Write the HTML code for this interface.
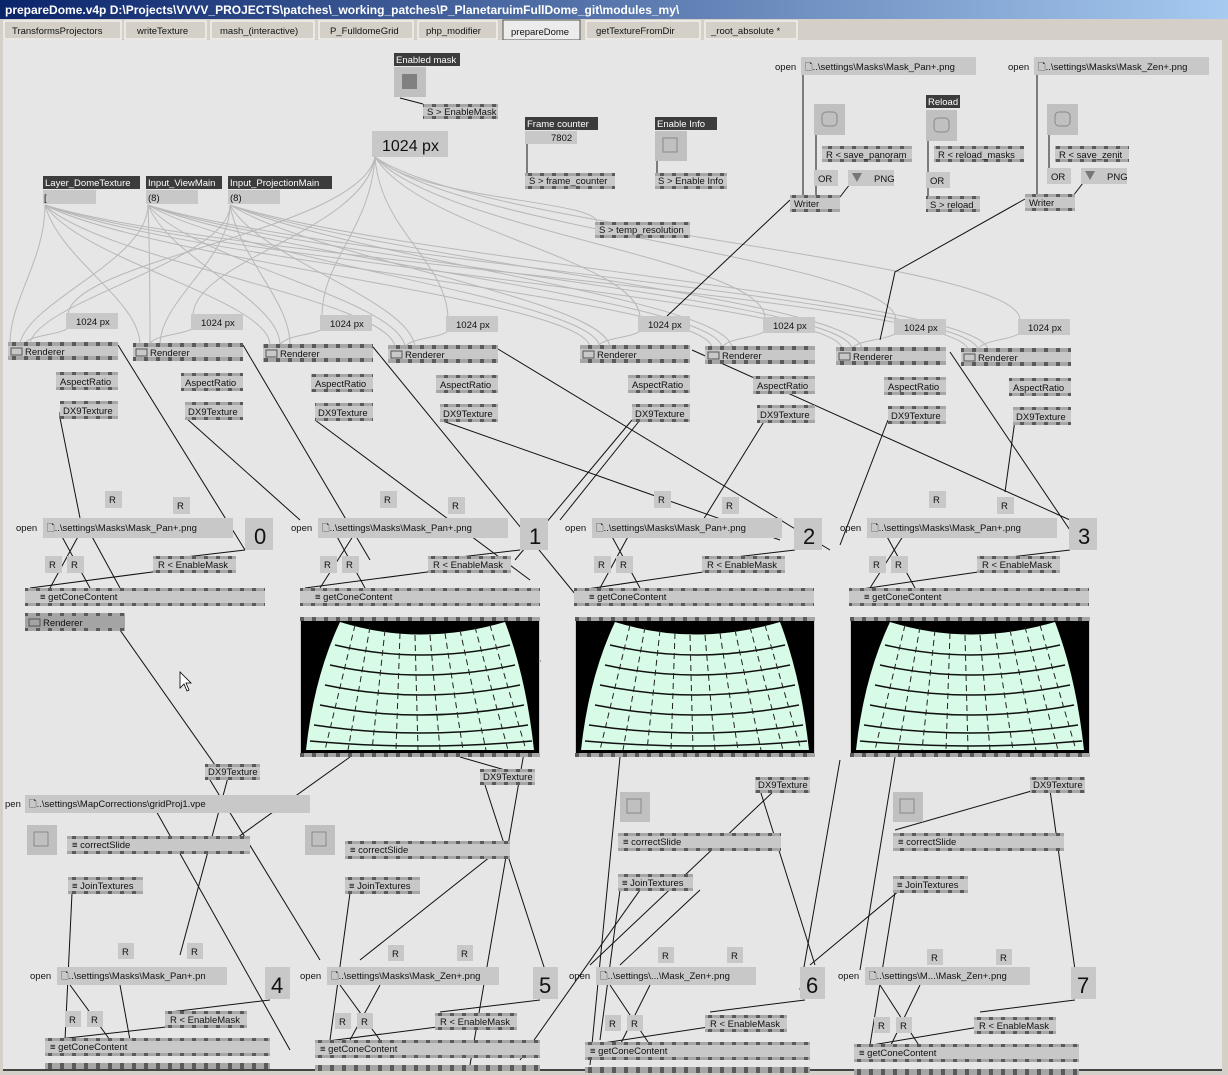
<!DOCTYPE html>
<html><head><meta charset="utf-8"><style>
body{margin:0;width:1228px;height:1075px;overflow:hidden;background:#d4d0c8;font-family:"Liberation Sans",sans-serif}
svg{position:absolute;left:0;top:0}
svg text{font-family:"Liberation Sans",sans-serif;font-size:9.5px;fill:#111}
.n{fill:#c8c8c8}.d{fill:#9a9a9a}.lb{fill:#3c3c3c}
.w{stroke:#111;stroke-width:1;fill:none}
.g{stroke:#b8b8b8;stroke-width:1;fill:none}
</style></head><body>
<svg width="1228" height="1075" viewBox="0 0 1228 1075">
<defs>
<pattern id="p" width="12" height="3" patternUnits="userSpaceOnUse"><rect width="12" height="3" fill="#a6a6a6"/><rect width="4" height="3" fill="#5a5a5a"/></pattern>
<linearGradient id="tb" x1="0" x2="1"><stop offset="0" stop-color="#0a246a"/><stop offset="1" stop-color="#a6caf0"/></linearGradient>
<g id="img">
<rect x="0" y="0" width="240" height="140" fill="#c8c8c8"/>
<rect x="0" y="0" width="240" height="4" fill="url(#p)"/>
<rect x="0" y="136" width="240" height="4" fill="url(#p)"/>
<rect x="1" y="4" width="238" height="132" fill="#000"/>
<path d="M40,5 Q120,30 205,5 Q226,60 234,133 L6,133 Q14,60 40,5 Z" fill="#d8fbe8"/>
<g stroke="#111" stroke-width="1.5" fill="none">
<path d="M35,28 Q120,48 210,28"/><path d="M30,48 Q120,68 215,48"/><path d="M25,68 Q120,88 220,68"/><path d="M20,88 Q120,108 224,88"/><path d="M14,108 Q120,124 228,108"/><path d="M10,124 Q120,134 232,124"/>
</g>
<g stroke="#222" stroke-width="1" stroke-dasharray="6,4">
<path d="M55,8 L25,133"/><path d="M70,10 L48,133"/><path d="M85,13 L72,133"/><path d="M100,16 L96,133"/><path d="M115,18 L118,133"/><path d="M130,18 L140,133"/><path d="M145,16 L163,133"/><path d="M160,13 L186,133"/><path d="M175,10 L208,133"/><path d="M190,8 L226,133"/>
</g>
</g>
</defs>
<!-- window -->
<rect x="0" y="0" width="1228" height="1075" fill="#d4d0c8"/>
<rect x="0" y="0" width="1228" height="19" fill="url(#tb)"/>
<text x="5" y="14" style="fill:#fff;font-weight:bold;font-size:12px">prepareDome.v4p   D:\Projects\VVVV_PROJECTS\patches\_working_patches\P_PlanetaruimFullDome_git\modules_my\</text>
<g style="font-size:10px">
<rect x="4" y="21" width="117" height="18" fill="#d4d0c8" stroke="#fff"/><text x="12" y="34">TransformsProjectors</text>
<rect x="125" y="21" width="81" height="18" fill="#d4d0c8" stroke="#fff"/><text x="137" y="34">writeTexture</text>
<rect x="211" y="21" width="103" height="18" fill="#d4d0c8" stroke="#fff"/><text x="220" y="34">mash_(interactive)</text>
<rect x="319" y="21" width="94" height="18" fill="#d4d0c8" stroke="#fff"/><text x="330" y="34">P_FulldomeGrid</text>
<rect x="418" y="21" width="79" height="18" fill="#d4d0c8" stroke="#fff"/><text x="426" y="34">php_modifier</text>
<rect x="503" y="20" width="77" height="20" fill="#ececec" stroke="#555"/><text x="511" y="35">prepareDome</text>
<rect x="586" y="21" width="114" height="18" fill="#d4d0c8" stroke="#fff"/><text x="596" y="34">getTextureFromDir</text>
<rect x="705" y="21" width="92" height="18" fill="#d4d0c8" stroke="#fff"/><text x="711" y="34">_root_absolute *</text>
</g>
<rect x="3" y="40" width="1219" height="1031" fill="#e6e6e6"/>
<rect x="3" y="1069" width="1219" height="2" fill="#444"/>

<!-- gray links -->
<g class="g">
<path d="M45,205 C45,260 10,300 10,343"/><path d="M45,205 C60,260 140,300 140,345"/><path d="M45,205 C80,260 270,300 270,345"/><path d="M45,205 C100,260 390,300 395,347"/><path d="M45,205 C150,260 585,300 590,347"/><path d="M45,205 C180,260 710,300 712,348"/><path d="M45,205 C200,260 840,300 842,349"/><path d="M45,205 C220,260 965,300 968,350"/>
<path d="M148,205 C148,260 30,300 20,343"/><path d="M148,205 C150,260 150,300 150,345"/><path d="M148,205 C170,260 280,300 280,345"/><path d="M148,205 C190,260 400,300 405,347"/><path d="M148,205 C240,260 595,300 600,347"/><path d="M148,205 C280,260 720,300 722,348"/><path d="M148,205 C300,260 850,300 852,349"/><path d="M148,205 C320,260 975,300 978,350"/>
<path d="M230,205 C230,260 40,300 30,343"/><path d="M230,205 C230,260 160,300 160,345"/><path d="M230,205 C240,260 290,300 290,345"/><path d="M230,205 C260,260 410,300 415,347"/><path d="M230,205 C320,260 605,300 610,347"/><path d="M230,205 C360,260 730,300 732,348"/><path d="M230,205 C380,260 860,300 862,349"/><path d="M230,205 C400,260 985,300 988,350"/>
<path d="M375,157 C360,230 70,260 68,315"/><path d="M375,157 C365,230 195,260 193,315"/><path d="M375,157 C370,230 322,260 322,316"/><path d="M375,157 C380,230 446,260 448,318"/><path d="M375,157 C420,230 640,260 640,318"/><path d="M375,157 C440,230 765,260 765,318"/><path d="M375,157 C460,230 895,260 896,320"/><path d="M375,157 C480,230 1020,260 1020,320"/><path d="M375,157 C420,200 595,200 597,222"/>
<path d="M68,328 C60,335 30,335 25,343"/><path d="M193,328 C185,335 150,335 150,345"/><path d="M322,329 C315,335 285,335 280,345"/><path d="M448,331 C440,338 410,338 405,347"/><path d="M640,331 C632,338 600,338 598,347"/><path d="M765,331 C757,338 725,338 722,348"/><path d="M896,333 C888,340 855,340 852,349"/><path d="M1020,333 C1012,340 980,340 978,350"/>
</g>

<!-- black links -->
<g class="w">
<path d="M400,98 L423,104"/><path d="M527,144 L527,173"/><path d="M657,160 L657,173"/>
<path d="M803,74 L803,197"/><path d="M816,134 L816,172"/><path d="M850,184 L840,197"/><path d="M816,186 L816,197"/><path d="M790,200 L665,318"/>
<path d="M928,140 L928,172"/><path d="M928,186 L928,197"/>
<path d="M1037,74 L1037,196"/><path d="M1049,134 L1049,169"/><path d="M1083,183 L1073,196"/><path d="M1025,199 L895,272 L880,340"/>
<path d="M60,412 L60,418 L80,518"/><path d="M118,345 L245,550"/><path d="M186,418 L300,520"/><path d="M243,345 L370,560"/><path d="M315,420 L530,580"/><path d="M373,347 L580,600"/><path d="M440,420 L780,540"/>
<path d="M498,349 L830,550"/><path d="M640,420 L560,520"/><path d="M632,420 L515,560"/><path d="M692,350 L1070,520"/><path d="M765,420 L700,525"/><path d="M888,420 L840,545"/><path d="M950,352 L1080,545"/><path d="M1015,420 L1005,492"/>
<path d="M245,550 L160,560"/><path d="M520,550 L435,560"/><path d="M795,550 L710,560"/><path d="M1070,550 L985,560"/>
<path d="M120,630 L215,765"/><path d="M230,770 L180,955"/><path d="M210,780 L320,960"/><path d="M350,757 L220,850"/><path d="M460,757 L505,770"/><path d="M485,785 L545,970"/><path d="M505,845 L360,960"/><path d="M540,660 L470,1065"/>
<path d="M620,757 L590,1065"/><path d="M760,790 L815,965"/><path d="M775,790 L590,965"/><path d="M840,760 L800,990"/><path d="M895,757 L860,970"/><path d="M1050,790 L1075,970"/><path d="M1035,790 L895,830"/>
<path d="M150,800 L290,1050"/><path d="M72,893 L65,1040"/><path d="M350,893 L330,1040"/><path d="M620,890 L600,1040"/><path d="M895,892 L870,1045"/>
<path d="M640,890 L520,1060"/><path d="M700,890 L620,965"/><path d="M900,890 L810,965"/><path d="M270,1000 L170,1012"/><path d="M540,1000 L440,1012"/><path d="M805,1000 L710,1012"/><path d="M1075,1000 L980,1012"/>
<path d="M60,533 L90,588"/><path d="M80,533 L50,588"/><path d="M90,533 L120,588"/><path d="M160,571 L30,588"/><path d="M335,533 L365,588"/><path d="M355,533 L320,588"/><path d="M435,571 L305,588"/><path d="M610,533 L640,588"/><path d="M630,533 L600,588"/><path d="M710,571 L580,590"/><path d="M885,533 L915,588"/><path d="M905,533 L870,588"/><path d="M985,571 L855,590"/>
<path d="M70,985 L110,1040"/><path d="M120,985 L130,1040"/><path d="M175,1026 L50,1040"/><path d="M340,985 L380,1040"/><path d="M380,985 L350,1040"/><path d="M445,1026 L320,1042"/><path d="M610,985 L650,1045"/><path d="M650,985 L620,1045"/><path d="M715,1026 L590,1045"/><path d="M880,985 L920,1047"/><path d="M920,985 L890,1047"/><path d="M985,1026 L860,1047"/>
</g>

<!-- label boxes -->
<g style="font-size:9.5px">
<rect x="394" y="53" width="66" height="13" class="lb"/><text x="396" y="63" style="fill:#fff">Enabled mask</text>
<rect x="525" y="117" width="73" height="13" class="lb"/><text x="527" y="127" style="fill:#fff">Frame counter</text>
<rect x="655" y="117" width="62" height="13" class="lb"/><text x="657" y="127" style="fill:#fff">Enable Info</text>
<rect x="43" y="176" width="97" height="13" class="lb"/><text x="45" y="186" style="fill:#fff">Layer_DomeTexture</text>
<rect x="146" y="176" width="76" height="13" class="lb"/><text x="148" y="186" style="fill:#fff">Input_ViewMain</text>
<rect x="228" y="176" width="104" height="13" class="lb"/><text x="230" y="186" style="fill:#fff">Input_ProjectionMain</text>
<rect x="926" y="95" width="34" height="13" class="lb"/><text x="928" y="105" style="fill:#fff">Reload</text>
</g>

<!-- toggles -->
<g>
<rect x="394" y="67" width="32" height="30" fill="#c0c0c0"/><rect x="402" y="74" width="15" height="15" fill="#808080"/>
<rect x="655" y="131" width="32" height="30" fill="#c0c0c0"/><rect x="663" y="138" width="14" height="14" fill="none" stroke="#888"/>
<rect x="814" y="104" width="31" height="31" fill="#c0c0c0"/><rect x="822" y="112" width="15" height="14" rx="4" fill="none" stroke="#888"/>
<rect x="926" y="110" width="31" height="31" fill="#c0c0c0"/><rect x="934" y="118" width="15" height="14" rx="4" fill="none" stroke="#888"/>
<rect x="1047" y="104" width="31" height="31" fill="#c0c0c0"/><rect x="1055" y="112" width="15" height="14" rx="4" fill="none" stroke="#888"/>
<rect x="27" y="825" width="30" height="30" fill="#c0c0c0"/><rect x="34" y="832" width="14" height="14" fill="none" stroke="#888"/>
<rect x="305" y="825" width="30" height="30" fill="#c0c0c0"/><rect x="312" y="832" width="14" height="14" fill="none" stroke="#888"/>
<rect x="620" y="792" width="30" height="30" fill="#c0c0c0"/><rect x="627" y="799" width="14" height="14" fill="none" stroke="#888"/>
<rect x="893" y="792" width="30" height="30" fill="#c0c0c0"/><rect x="900" y="799" width="14" height="14" fill="none" stroke="#888"/>
</g>

<!-- nodes -->
<g>
<rect x="423" y="104" width="75" height="15" class="n"/><rect x="423" y="104" width="75" height="3" fill="url(#p)"/><rect x="423" y="116" width="75" height="3" fill="url(#p)"/><text x="427" y="115">S &gt; EnableMask</text>
<rect x="372" y="131" width="76" height="26" class="n"/><text x="382" y="151" style="font-size:16px">1024 px</text>
<rect x="525" y="131" width="52" height="13" class="n"/><text x="551" y="141">7802</text>
<rect x="525" y="173" width="90" height="16" class="n"/><rect x="525" y="173" width="90" height="3" fill="url(#p)"/><rect x="525" y="186" width="90" height="3" fill="url(#p)"/><text x="529" y="184">S &gt; frame_counter</text>
<rect x="655" y="173" width="72" height="16" class="n"/><rect x="655" y="173" width="72" height="3" fill="url(#p)"/><rect x="655" y="186" width="72" height="3" fill="url(#p)"/><text x="658" y="184">S &gt; Enable Info</text>
<rect x="43" y="190" width="53" height="14" class="n"/><text x="44" y="201">[</text>
<rect x="146" y="190" width="52" height="14" class="n"/><text x="148" y="201">(8)</text>
<rect x="228" y="190" width="52" height="14" class="n"/><text x="230" y="201">(8)</text>
<rect x="595" y="222" width="95" height="16" class="n"/><rect x="595" y="222" width="95" height="3" fill="url(#p)"/><rect x="595" y="235" width="95" height="3" fill="url(#p)"/><text x="599" y="233">S &gt; temp_resolution</text>
<text x="775" y="70">open</text><rect x="801" y="57" width="175" height="18" class="n"/><text x="805" y="70">🗋..\settings\Masks\Mask_Pan+.png</text>
<rect x="822" y="146" width="90" height="16" class="n"/><rect x="822" y="146" width="90" height="3" fill="url(#p)"/><rect x="822" y="159" width="90" height="3" fill="url(#p)"/><text x="826" y="158">R &lt; save_panoram</text>
<rect x="814" y="170" width="24" height="16" class="n"/><text x="818" y="182">OR</text>
<rect x="848" y="170" width="46" height="16" class="n"/><path d="M852,173 L862,173 L857,182Z" fill="#777"/><text x="874" y="182">PNG</text>
<rect x="790" y="195" width="50" height="17" class="n"/><rect x="790" y="195" width="50" height="3" fill="url(#p)"/><rect x="790" y="209" width="50" height="3" fill="url(#p)"/><text x="794" y="207">Writer</text>
<rect x="934" y="146" width="90" height="16" class="n"/><rect x="934" y="146" width="90" height="3" fill="url(#p)"/><rect x="934" y="159" width="90" height="3" fill="url(#p)"/><text x="938" y="158">R &lt; reload_masks</text>
<rect x="926" y="172" width="24" height="16" class="n"/><text x="930" y="184">OR</text>
<rect x="926" y="196" width="54" height="16" class="n"/><rect x="926" y="196" width="54" height="3" fill="url(#p)"/><rect x="926" y="209" width="54" height="3" fill="url(#p)"/><text x="930" y="208">S &gt; reload</text>
<text x="1008" y="70">open</text><rect x="1034" y="57" width="175" height="18" class="n"/><text x="1038" y="70">🗋..\settings\Masks\Mask_Zen+.png</text>
<rect x="1055" y="146" width="74" height="16" class="n"/><rect x="1055" y="146" width="74" height="3" fill="url(#p)"/><rect x="1055" y="159" width="74" height="3" fill="url(#p)"/><text x="1059" y="158">R &lt; save_zenit</text>
<rect x="1047" y="168" width="24" height="16" class="n"/><text x="1051" y="180">OR</text>
<rect x="1081" y="168" width="46" height="16" class="n"/><path d="M1085,171 L1095,171 L1090,180Z" fill="#777"/><text x="1107" y="180">PNG</text>
<rect x="1025" y="194" width="50" height="17" class="n"/><rect x="1025" y="194" width="50" height="3" fill="url(#p)"/><rect x="1025" y="208" width="50" height="3" fill="url(#p)"/><text x="1029" y="206">Writer</text>
</g>

<!-- renderer columns -->
<g>
<rect x="66" y="313" width="52" height="16" class="n"/><text x="76" y="325">1024 px</text>
<rect x="191" y="314" width="52" height="16" class="n"/><text x="201" y="326">1024 px</text>
<rect x="320" y="315" width="52" height="16" class="n"/><text x="330" y="327">1024 px</text>
<rect x="446" y="316" width="52" height="16" class="n"/><text x="456" y="328">1024 px</text>
<rect x="638" y="316" width="52" height="16" class="n"/><text x="648" y="328">1024 px</text>
<rect x="763" y="317" width="52" height="16" class="n"/><text x="773" y="329">1024 px</text>
<rect x="894" y="319" width="52" height="16" class="n"/><text x="904" y="331">1024 px</text>
<rect x="1018" y="319" width="52" height="16" class="n"/><text x="1028" y="331">1024 px</text>

<rect x="8" y="342" width="110" height="18" class="n"/><rect x="8" y="342" width="110" height="4" fill="url(#p)"/><rect x="8" y="356" width="110" height="4" fill="url(#p)"/><rect x="11" y="348" width="11" height="7" fill="none" stroke="#555"/><text x="25" y="355">Renderer</text>
<rect x="133" y="343" width="110" height="18" class="n"/><rect x="133" y="343" width="110" height="4" fill="url(#p)"/><rect x="133" y="357" width="110" height="4" fill="url(#p)"/><rect x="136" y="349" width="11" height="7" fill="none" stroke="#555"/><text x="150" y="356">Renderer</text>
<rect x="263" y="344" width="110" height="18" class="n"/><rect x="263" y="344" width="110" height="4" fill="url(#p)"/><rect x="263" y="358" width="110" height="4" fill="url(#p)"/><rect x="266" y="350" width="11" height="7" fill="none" stroke="#555"/><text x="280" y="357">Renderer</text>
<rect x="388" y="345" width="110" height="18" class="n"/><rect x="388" y="345" width="110" height="4" fill="url(#p)"/><rect x="388" y="359" width="110" height="4" fill="url(#p)"/><rect x="391" y="351" width="11" height="7" fill="none" stroke="#555"/><text x="405" y="358">Renderer</text>
<rect x="580" y="345" width="110" height="18" class="n"/><rect x="580" y="345" width="110" height="4" fill="url(#p)"/><rect x="580" y="359" width="110" height="4" fill="url(#p)"/><rect x="583" y="351" width="11" height="7" fill="none" stroke="#555"/><text x="597" y="358">Renderer</text>
<rect x="705" y="346" width="110" height="18" class="n"/><rect x="705" y="346" width="110" height="4" fill="url(#p)"/><rect x="705" y="360" width="110" height="4" fill="url(#p)"/><rect x="708" y="352" width="11" height="7" fill="none" stroke="#555"/><text x="722" y="359">Renderer</text>
<rect x="836" y="347" width="110" height="18" class="n"/><rect x="836" y="347" width="110" height="4" fill="url(#p)"/><rect x="836" y="361" width="110" height="4" fill="url(#p)"/><rect x="839" y="353" width="11" height="7" fill="none" stroke="#555"/><text x="853" y="360">Renderer</text>
<rect x="961" y="348" width="110" height="18" class="n"/><rect x="961" y="348" width="110" height="4" fill="url(#p)"/><rect x="961" y="362" width="110" height="4" fill="url(#p)"/><rect x="964" y="354" width="11" height="7" fill="none" stroke="#555"/><text x="978" y="361">Renderer</text>

<rect x="56" y="372" width="62" height="18" class="n"/><rect x="56" y="372" width="62" height="3" fill="url(#p)"/><rect x="56" y="387" width="62" height="3" fill="url(#p)"/><text x="60" y="385">AspectRatio</text>
<rect x="181" y="373" width="62" height="18" class="n"/><rect x="181" y="373" width="62" height="3" fill="url(#p)"/><rect x="181" y="388" width="62" height="3" fill="url(#p)"/><text x="185" y="386">AspectRatio</text>
<rect x="311" y="374" width="62" height="18" class="n"/><rect x="311" y="374" width="62" height="3" fill="url(#p)"/><rect x="311" y="389" width="62" height="3" fill="url(#p)"/><text x="315" y="387">AspectRatio</text>
<rect x="436" y="375" width="62" height="18" class="n"/><rect x="436" y="375" width="62" height="3" fill="url(#p)"/><rect x="436" y="390" width="62" height="3" fill="url(#p)"/><text x="440" y="388">AspectRatio</text>
<rect x="628" y="375" width="62" height="18" class="n"/><rect x="628" y="375" width="62" height="3" fill="url(#p)"/><rect x="628" y="390" width="62" height="3" fill="url(#p)"/><text x="632" y="388">AspectRatio</text>
<rect x="753" y="376" width="62" height="18" class="n"/><rect x="753" y="376" width="62" height="3" fill="url(#p)"/><rect x="753" y="391" width="62" height="3" fill="url(#p)"/><text x="757" y="389">AspectRatio</text>
<rect x="884" y="377" width="62" height="18" class="n"/><rect x="884" y="377" width="62" height="3" fill="url(#p)"/><rect x="884" y="392" width="62" height="3" fill="url(#p)"/><text x="888" y="390">AspectRatio</text>
<rect x="1009" y="378" width="62" height="18" class="n"/><rect x="1009" y="378" width="62" height="3" fill="url(#p)"/><rect x="1009" y="393" width="62" height="3" fill="url(#p)"/><text x="1013" y="391">AspectRatio</text>

<rect x="60" y="401" width="58" height="18" class="n"/><rect x="60" y="401" width="58" height="3" fill="url(#p)"/><rect x="60" y="416" width="58" height="3" fill="url(#p)"/><text x="63" y="414">DX9Texture</text>
<rect x="185" y="402" width="58" height="18" class="n"/><rect x="185" y="402" width="58" height="3" fill="url(#p)"/><rect x="185" y="417" width="58" height="3" fill="url(#p)"/><text x="188" y="415">DX9Texture</text>
<rect x="315" y="403" width="58" height="18" class="n"/><rect x="315" y="403" width="58" height="3" fill="url(#p)"/><rect x="315" y="418" width="58" height="3" fill="url(#p)"/><text x="318" y="416">DX9Texture</text>
<rect x="440" y="404" width="58" height="18" class="n"/><rect x="440" y="404" width="58" height="3" fill="url(#p)"/><rect x="440" y="419" width="58" height="3" fill="url(#p)"/><text x="443" y="417">DX9Texture</text>
<rect x="632" y="404" width="58" height="18" class="n"/><rect x="632" y="404" width="58" height="3" fill="url(#p)"/><rect x="632" y="419" width="58" height="3" fill="url(#p)"/><text x="635" y="417">DX9Texture</text>
<rect x="757" y="405" width="58" height="18" class="n"/><rect x="757" y="405" width="58" height="3" fill="url(#p)"/><rect x="757" y="420" width="58" height="3" fill="url(#p)"/><text x="760" y="418">DX9Texture</text>
<rect x="888" y="406" width="58" height="18" class="n"/><rect x="888" y="406" width="58" height="3" fill="url(#p)"/><rect x="888" y="421" width="58" height="3" fill="url(#p)"/><text x="891" y="419">DX9Texture</text>
<rect x="1013" y="407" width="58" height="18" class="n"/><rect x="1013" y="407" width="58" height="3" fill="url(#p)"/><rect x="1013" y="422" width="58" height="3" fill="url(#p)"/><text x="1016" y="420">DX9Texture</text>
</g>

<!-- middle groups -->
<g id="m0">
<rect x="105" y="491" width="17" height="17" class="n"/><text x="109" y="503">R</text>
<rect x="173" y="497" width="17" height="17" class="n"/><text x="177" y="509">R</text>
<text x="16" y="531">open</text><rect x="43" y="518" width="190" height="20" class="n"/><text x="47" y="531">🗋..\settings\Masks\Mask_Pan+.png</text>
<rect x="245" y="518" width="28" height="32" class="n"/><text x="254" y="544" style="font-size:22px">0</text>
<rect x="45" y="556" width="17" height="17" class="n"/><text x="49" y="568">R</text>
<rect x="67" y="556" width="17" height="17" class="n"/><text x="71" y="568">R</text>
<rect x="153" y="556" width="83" height="17" class="n"/><rect x="153" y="556" width="83" height="3" fill="url(#p)"/><rect x="153" y="570" width="83" height="3" fill="url(#p)"/><text x="158" y="568">R &lt; EnableMask</text>
<rect x="25" y="588" width="240" height="18" class="n"/><rect x="25" y="588" width="240" height="3" fill="url(#p)"/><rect x="25" y="603" width="240" height="3" fill="url(#p)"/><text x="40" y="600">≡ getConeContent</text>
</g>
<use href="#m0" x="275"/><use href="#m0" x="549"/><use href="#m0" x="824"/>
<rect x="520" y="518" width="28" height="32" class="n"/><text x="529" y="544" style="font-size:22px">1</text>
<rect x="794" y="518" width="28" height="32" class="n"/><text x="803" y="544" style="font-size:22px">2</text>
<rect x="1069" y="518" width="28" height="32" class="n"/><text x="1078" y="544" style="font-size:22px">3</text>

<rect x="25" y="613" width="100" height="18" fill="#a4a4a4"/><rect x="25" y="613" width="100" height="3" fill="url(#p)"/><rect x="25" y="628" width="100" height="3" fill="url(#p)"/><rect x="29" y="619" width="11" height="7" fill="none" stroke="#555"/><text x="43" y="626">Renderer</text>
<use href="#img" x="300" y="617"/><use href="#img" x="575" y="617"/><use href="#img" x="850" y="617"/>
<!-- cursor -->
<path d="M180,672 L180,688 L184,684 L187,691 L189,690 L186,683 L191,683 Z" fill="#fff" stroke="#000" stroke-width="0.8"/>

<!-- lower nodes -->
<g>
<rect x="205" y="764" width="55" height="16" class="n"/><rect x="205" y="764" width="55" height="3" fill="url(#p)"/><rect x="205" y="777" width="55" height="3" fill="url(#p)"/><text x="208" y="775">DX9Texture</text>
<rect x="480" y="769" width="55" height="16" class="n"/><rect x="480" y="769" width="55" height="3" fill="url(#p)"/><rect x="480" y="782" width="55" height="3" fill="url(#p)"/><text x="483" y="780">DX9Texture</text>
<rect x="755" y="777" width="55" height="16" class="n"/><rect x="755" y="777" width="55" height="3" fill="url(#p)"/><rect x="755" y="790" width="55" height="3" fill="url(#p)"/><text x="758" y="788">DX9Texture</text>
<rect x="1030" y="777" width="55" height="16" class="n"/><rect x="1030" y="777" width="55" height="3" fill="url(#p)"/><rect x="1030" y="790" width="55" height="3" fill="url(#p)"/><text x="1033" y="788">DX9Texture</text>
<text x="5" y="807">pen</text><rect x="25" y="795" width="285" height="18" class="n"/><text x="29" y="807">🗋..\settings\MapCorrections\gridProj1.vpe</text>
<rect x="67" y="836" width="183" height="18" class="n"/><rect x="67" y="836" width="183" height="3" fill="url(#p)"/><rect x="67" y="851" width="183" height="3" fill="url(#p)"/><text x="72" y="848">≡ correctSlide</text>
<rect x="345" y="841" width="165" height="18" class="n"/><rect x="345" y="841" width="165" height="3" fill="url(#p)"/><rect x="345" y="856" width="165" height="3" fill="url(#p)"/><text x="350" y="853">≡ correctSlide</text>
<rect x="618" y="833" width="163" height="18" class="n"/><rect x="618" y="833" width="163" height="3" fill="url(#p)"/><rect x="618" y="848" width="163" height="3" fill="url(#p)"/><text x="623" y="845">≡ correctSlide</text>
<rect x="893" y="833" width="171" height="18" class="n"/><rect x="893" y="833" width="171" height="3" fill="url(#p)"/><rect x="893" y="848" width="171" height="3" fill="url(#p)"/><text x="898" y="845">≡ correctSlide</text>
<rect x="68" y="877" width="75" height="17" class="n"/><rect x="68" y="877" width="75" height="3" fill="url(#p)"/><rect x="68" y="891" width="75" height="3" fill="url(#p)"/><text x="72" y="889">≡ JoinTextures</text>
<rect x="345" y="877" width="75" height="17" class="n"/><rect x="345" y="877" width="75" height="3" fill="url(#p)"/><rect x="345" y="891" width="75" height="3" fill="url(#p)"/><text x="349" y="889">≡ JoinTextures</text>
<rect x="618" y="874" width="75" height="17" class="n"/><rect x="618" y="874" width="75" height="3" fill="url(#p)"/><rect x="618" y="888" width="75" height="3" fill="url(#p)"/><text x="622" y="886">≡ JoinTextures</text>
<rect x="893" y="876" width="75" height="17" class="n"/><rect x="893" y="876" width="75" height="3" fill="url(#p)"/><rect x="893" y="890" width="75" height="3" fill="url(#p)"/><text x="897" y="888">≡ JoinTextures</text>
</g>

<!-- bottom groups -->
<g id="b0">
<rect x="118" y="943" width="16" height="16" class="n"/><text x="122" y="955">R</text>
<rect x="187" y="943" width="16" height="16" class="n"/><text x="191" y="955">R</text>
<rect x="65" y="1011" width="16" height="16" class="n"/><text x="69" y="1023">R</text>
<rect x="87" y="1011" width="16" height="16" class="n"/><text x="91" y="1023">R</text>
<rect x="165" y="1011" width="82" height="17" class="n"/><rect x="165" y="1011" width="82" height="3" fill="url(#p)"/><rect x="165" y="1025" width="82" height="3" fill="url(#p)"/><text x="170" y="1023">R &lt; EnableMask</text>
<rect x="45" y="1038" width="225" height="18" class="n"/><rect x="45" y="1038" width="225" height="3" fill="url(#p)"/><rect x="45" y="1053" width="225" height="3" fill="url(#p)"/><text x="50" y="1050">≡ getConeContent</text>
<rect x="45" y="1063" width="225" height="6" fill="url(#p)"/>
</g>
<use href="#b0" x="270" y="2"/><use href="#b0" x="540" y="4"/><use href="#b0" x="809" y="6"/>
<text x="30" y="979">open</text><rect x="57" y="967" width="170" height="18" class="n"/><text x="61" y="979">🗋..\settings\Masks\Mask_Pan+.pn</text>
<text x="300" y="979">open</text><rect x="327" y="967" width="172" height="18" class="n"/><text x="331" y="979">🗋..\settings\Masks\Mask_Zen+.png</text>
<text x="569" y="979">open</text><rect x="596" y="967" width="160" height="18" class="n"/><text x="600" y="979">🗋..\settings\...\Mask_Zen+.png</text>
<text x="838" y="979">open</text><rect x="865" y="967" width="165" height="18" class="n"/><text x="869" y="979">🗋..\settings\M...\Mask_Zen+.png</text>
<rect x="265" y="967" width="25" height="32" class="n"/><text x="271" y="993" style="font-size:22px">4</text>
<rect x="533" y="967" width="25" height="32" class="n"/><text x="539" y="993" style="font-size:22px">5</text>
<rect x="800" y="967" width="25" height="32" class="n"/><text x="806" y="993" style="font-size:22px">6</text>
<rect x="1071" y="967" width="25" height="32" class="n"/><text x="1077" y="993" style="font-size:22px">7</text>
<rect x="0" y="40" width="3" height="1035" fill="#d4d0c8"/><rect x="1222" y="40" width="6" height="1035" fill="#d4d0c8"/>
</svg>
</body></html>
